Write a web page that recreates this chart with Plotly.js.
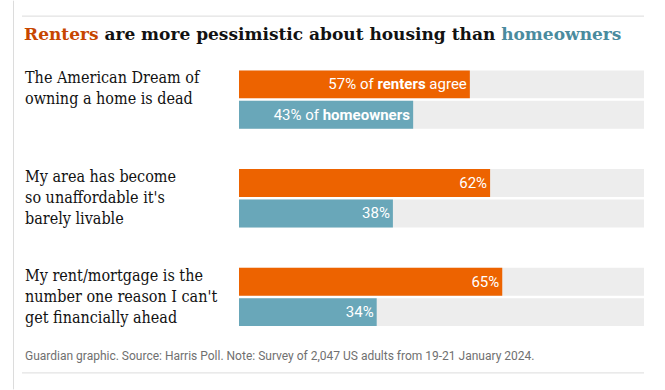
<!DOCTYPE html>
<html>
<head>
<meta charset="utf-8">
<script src="https://cdn.plot.ly/plotly-3.0.1.min.js"></script>
<style>html,body{margin:0;padding:0;background:#fff;}#chart{width:665px;height:390px;}</style>
</head>
<body>
<div id="chart"></div>
<script>
// ---- data ----
const questions = [
  "The American Dream of<br>owning a home is dead",
  "My area has become<br>so unaffordable it's<br>barely livable",
  "My rent/mortgage is the<br>number one reason I can't<br>get financially ahead"
];
const renters = [57, 62, 65];
const homeowners = [43, 38, 34];
const fullScale = [100, 100, 100];
const renterLabels = ["% of <b>renters</b> agree", "%", "%"];
const homeownerLabels = ["% of <b>homeowners</b>", "%", "%"];
const titleText = "<span style='color:#c74600'>Renters</span> are more pessimistic about housing than <span style='color:#4a8b9e'>homeowners</span>";
const sourceText = "Guardian graphic. Source: Harris Poll. Note: Survey of 2,047 US adults from 19-21 January 2024.";

// ---- layout constants ----
const W = 665, H = 390;
const L = 239, R = 21, T = 49.5, B = 43.5;
const plotW = W - L - R, plotH = H - T - B;
const px2x = p => (p - L) / plotW;
const py2y = p => (H - B - p) / plotH;

const barW = 0.283;
const offRent = -0.293, offHome = 0.015;
const sansFont = "'Liberation Sans Narrow', Roboto, 'Open Sans', sans-serif";
const serifFont = "'DejaVu Serif', serif";
const labelFont = "'DejaVu Serif Condensed', 'DejaVu Serif', serif";

const common = {type: 'bar', orientation: 'h', y: questions, width: barW, hoverinfo: 'skip', showlegend: false};

const traces = [
  Object.assign({}, common, {x: fullScale, offset: offRent, marker: {color: '#ededed'}}),
  Object.assign({}, common, {x: fullScale, offset: offHome, marker: {color: '#ededed'}}),
  Object.assign({}, common, {
    x: renters, offset: offRent, marker: {color: '#ed6300'},
    text: renters.map((v, i) => v + renterLabels[i]),
    textposition: 'inside', insidetextanchor: 'end', constraintext: 'none',
    textfont: {color: '#ffffff', size: 15, family: sansFont}
  }),
  Object.assign({}, common, {
    x: homeowners, offset: offHome, marker: {color: '#69a7b9'},
    text: homeowners.map((v, i) => v + homeownerLabels[i]),
    textposition: 'inside', insidetextanchor: 'end', constraintext: 'none',
    textfont: {color: '#ffffff', size: 15, family: sansFont}
  })
];

const annotations = questions.map(q => ({
  xref: 'paper', yref: 'y', x: px2x(23), y: q,
  xanchor: 'left', yanchor: 'top', align: 'left', yshift: 33,
  showarrow: false, text: q,
  font: {family: labelFont, size: 16, color: '#121212'}
}));
annotations.push({
  xref: 'paper', yref: 'paper', x: px2x(23), y: py2y(357),
  xanchor: 'left', yanchor: 'middle', align: 'left', showarrow: false,
  text: sourceText, font: {family: sansFont, size: 12, color: '#707070'}
});

const lineStyle = {color: '#dcdcdc', width: 1};
const shapes = [
  {type: 'line', xref: 'paper', yref: 'paper', x0: px2x(13.5), x1: px2x(13.5), y0: py2y(0), y1: py2y(390), line: lineStyle},
  {type: 'line', xref: 'paper', yref: 'paper', x0: px2x(22), x1: px2x(644), y0: py2y(15.5), y1: py2y(15.5), line: lineStyle},
  {type: 'line', xref: 'paper', yref: 'paper', x0: px2x(22), x1: px2x(644), y0: py2y(373.5), y1: py2y(373.5), line: lineStyle}
];

const layout = {
  width: W, height: H,
  margin: {l: L, r: R, t: T, b: B, pad: 0},
  paper_bgcolor: '#ffffff', plot_bgcolor: '#ffffff',
  barmode: 'overlay',
  title: {
    text: titleText, xref: 'container', yref: 'container',
    x: 24 / W, xanchor: 'left', y: 1 - 34 / H, yanchor: 'middle',
    font: {family: serifFont, size: 17, color: '#121212', weight: 'bold'}
  },
  xaxis: {range: [0, 100], visible: false, fixedrange: true},
  yaxis: {autorange: 'reversed', showticklabels: false, showgrid: false, zeroline: false, showline: false, ticks: '', fixedrange: true},
  annotations: annotations,
  shapes: shapes
};

Plotly.newPlot('chart', traces, layout, {displayModeBar: false, staticPlot: true});
</script>
</body>
</html>
